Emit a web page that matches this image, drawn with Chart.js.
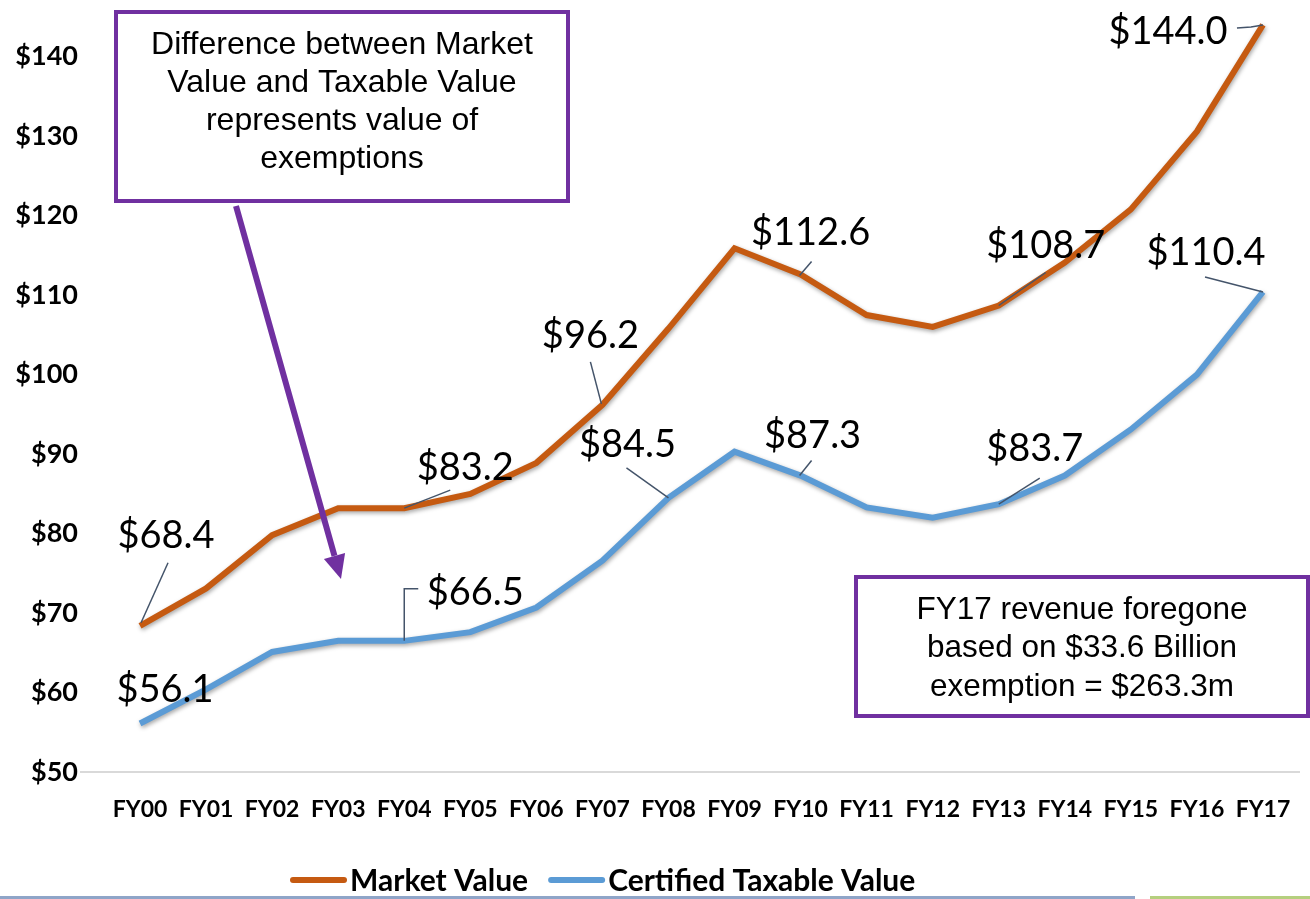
<!DOCTYPE html>
<html>
<head>
<meta charset="utf-8">
<script src="https://cdn.jsdelivr.net/npm/chart.js@4.4.0/dist/chart.umd.min.js"></script>
<style>
  html, body { margin: 0; padding: 0; background: #fff; }
  #wrap { position: relative; width: 1310px; height: 899px; }
</style>
</head>
<body>
<div id="wrap"><canvas id="myChart" width="1310" height="899"></canvas></div>
<script>
// valores em bilhões de dólares
const years = ["FY00", "FY01", "FY02", "FY03", "FY04", "FY05", "FY06", "FY07", "FY08",
  "FY09", "FY10", "FY11", "FY12", "FY13", "FY14", "FY15", "FY16", "FY17"];
const marketValue = [68.4, 73.1, 79.8, 83.2, 83.2, 85.0, 88.9, 96.2, 105.8,
  115.9, 112.6, 107.5, 106.0, 108.7, 114.1, 120.8, 130.6, 144.0];
const taxableValue = [56.1, 60.4, 65.1, 66.5, 66.5, 67.6, 70.7, 76.6, 84.5,
  90.3, 87.3, 83.3, 82.0, 83.7, 87.3, 93.1, 100.0, 110.4];
const yTicks = [50, 60, 70, 80, 90, 100, 110, 120, 130, 140];

const noteTop = ["Difference between Market", "Value and Taxable Value", "represents value of", "exemptions"];
const noteBottom = ["FY17 revenue foregone", "based on $33.6 Billion", "exemption = $263.3m"];

// onde ficam os rótulos de valor (deslocamento a partir do ponto, em px)
const labelSpots = [
  { ds: 0, i: 0, dx: 26, dy: -90, lead: [[1, -3], [28, -63]] },
  { ds: 0, i: 4, dx: 61, dy: -40, lead: [[0, 0], [46, -18]] },
  { ds: 0, i: 7, dx: -12, dy: -69, lead: [[-1, -1], [-12, -43]] },
  { ds: 0, i: 10, dx: 10, dy: -42, lead: [[-1, 1], [11, -13]] },
  { ds: 0, i: 13, dx: 47, dy: -60, lead: [[0, 0], [47, -33]] },
  { ds: 0, i: 17, dx: -95, dy: 7, lead: [[0, 0], [-12, 2], [-26, 3]] },
  { ds: 1, i: 0, dx: 25, dy: -34, lead: null },
  { ds: 1, i: 4, dx: 71, dy: -48, lead: [[0, 0], [0, -52], [14, -52]] },
  { ds: 1, i: 8, dx: -41, dy: -53, lead: [[0, 0], [-42, -30]] },
  { ds: 1, i: 10, dx: 12, dy: -40, lead: [[-1, 0], [11, -15]] },
  { ds: 1, i: 13, dx: 36, dy: -55, lead: [[0, 0], [41, -26]] },
  { ds: 1, i: 17, dx: -57, dy: -39, lead: [[0, 0], [-58, -15]] },
];

const orange = "#C55A11";
const blue = "#5B9BD5";
const purple = "#7030A0";

// sombra leve nas linhas
const lineShadow = {
  id: "lineShadow",
  beforeDatasetDraw(chart) {
    const ctx = chart.ctx;
    ctx.save();
    ctx.shadowColor = "rgba(0,0,0,0.35)";
    ctx.shadowBlur = 4;
    ctx.shadowOffsetX = 1;
    ctx.shadowOffsetY = 2;
  },
  afterDatasetDraw(chart) {
    chart.ctx.restore();
  },
};

// linha base em $50
const baseLine = {
  id: "baseLine",
  beforeDatasetsDraw(chart) {
    const ctx = chart.ctx;
    const y = chart.scales.y.getPixelForValue(50);
    ctx.save();
    ctx.strokeStyle = "#d9d9d9";
    ctx.lineWidth = 2;
    ctx.beginPath();
    ctx.moveTo(chart.chartArea.left - 27, y);
    ctx.lineTo(chart.chartArea.right + 4, y);
    ctx.stroke();
    ctx.restore();
  },
};

// rótulos de valor com linhas de chamada
const valueLabels = {
  id: "valueLabels",
  afterDatasetsDraw(chart) {
    const ctx = chart.ctx;
    ctx.save();
    labelSpots.forEach((s) => {
      const pt = chart.getDatasetMeta(s.ds).data[s.i];
      const v = chart.data.datasets[s.ds].data[s.i];
      if (s.lead) {
        ctx.strokeStyle = "#44546A";
        ctx.lineWidth = 1.5;
        ctx.beginPath();
        s.lead.forEach((p, k) => {
          if (k === 0) ctx.moveTo(pt.x + p[0], pt.y + p[1]);
          else ctx.lineTo(pt.x + p[0], pt.y + p[1]);
        });
        ctx.stroke();
      }
      ctx.fillStyle = "#000";
      ctx.font = "38px Lato";
      ctx.textAlign = "center";
      ctx.textBaseline = "middle";
      ctx.fillText("$" + v.toFixed(1), pt.x + s.dx, pt.y + s.dy);
    });
    ctx.restore();
  },
};

// legenda desenhada à mão (posição igual à do slide)
const bottomLegend = {
  id: "bottomLegend",
  afterDraw(chart) {
    const ctx = chart.ctx;
    ctx.save();
    ctx.font = "bold 30px Lato";
    ctx.textBaseline = "middle";
    ctx.textAlign = "left";
    let x = 290;
    const y = 880;
    chart.data.datasets.forEach((d) => {
      ctx.strokeStyle = d.borderColor;
      ctx.lineWidth = 6;
      ctx.lineCap = "round";
      ctx.beginPath();
      ctx.moveTo(x + 3, y);
      ctx.lineTo(x + 54, y);
      ctx.stroke();
      x += 60;
      ctx.fillStyle = "#000";
      ctx.fillText(d.label, x, y + 1);
      x += ctx.measureText(d.label).width + 20;
    });
    ctx.restore();
  },
};

// caixas de texto e seta roxa
const notes = {
  id: "notes",
  afterDraw(chart) {
    const ctx = chart.ctx;
    ctx.save();
    ctx.strokeStyle = purple;
    ctx.lineWidth = 4;
    ctx.fillStyle = "#fff";
    ctx.fillRect(116, 12, 452, 189);
    ctx.strokeRect(116, 12, 452, 189);
    ctx.fillRect(856, 577, 452, 139);
    ctx.strokeRect(856, 577, 452, 139);

    ctx.fillStyle = "#000";
    ctx.textAlign = "center";
    ctx.textBaseline = "middle";
    ctx.font = "32px 'Liberation Sans'";
    noteTop.forEach((t, k) => ctx.fillText(t, 342, 45 + k * 38));
    ctx.font = "31.5px 'Liberation Sans'";
    noteBottom.forEach((t, k) => ctx.fillText(t, 1082, 610 + k * 38.5));

    // seta
    const x0 = 236, y0 = 206, x1 = 341, y1 = 579;
    const ang = Math.atan2(y1 - y0, x1 - x0);
    const hl = 24, hw = 11;
    const bx = x1 - hl * Math.cos(ang), by = y1 - hl * Math.sin(ang);
    ctx.strokeStyle = purple;
    ctx.lineWidth = 6;
    ctx.beginPath();
    ctx.moveTo(x0, y0);
    ctx.lineTo(bx, by);
    ctx.stroke();
    ctx.fillStyle = purple;
    ctx.beginPath();
    ctx.moveTo(x1, y1);
    ctx.lineTo(bx + hw * Math.sin(ang), by - hw * Math.cos(ang));
    ctx.lineTo(bx - hw * Math.sin(ang), by + hw * Math.cos(ang));
    ctx.closePath();
    ctx.fill();

    // rodapé do slide
    ctx.fillStyle = "#8FA5C8";
    ctx.fillRect(0, 896, 1135, 3);
    ctx.fillStyle = "#B5CF7E";
    ctx.fillRect(1150, 896, 160, 3);
    ctx.restore();
  },
};

const ctx = document.getElementById("myChart");
const myChart = new Chart(ctx, {
  type: "line",
  data: {
    labels: years,
    datasets: [
      {
        label: "Market Value",
        data: marketValue,
        borderColor: orange,
        backgroundColor: orange,
        borderWidth: 6,
        pointRadius: 0,
        tension: 0,
      },
      {
        label: "Certified Taxable Value",
        data: taxableValue,
        borderColor: blue,
        backgroundColor: blue,
        borderWidth: 6,
        pointRadius: 0,
        tension: 0,
      },
    ],
  },
  options: {
    responsive: false,
    animation: false,
    devicePixelRatio: 1,
    layout: { padding: { left: 0, top: 17, right: 14, bottom: 43 } },
    scales: {
      x: {
        offset: true,
        grid: { display: false, drawTicks: false },
        border: { display: false },
        ticks: {
          color: "#000",
          font: { family: "Lato", size: 23, weight: "bold" },
          padding: 24,
          maxRotation: 0,
          autoSkip: false,
        },
        afterFit(scale) {
          scale.height = 84;
          scale.paddingLeft = 0;
          scale.paddingRight = 0;
        },
      },
      y: {
        min: 50,
        max: 145,
        grid: { display: false, drawTicks: false },
        border: { display: false },
        afterBuildTicks(scale) {
          scale.ticks = yTicks.map((v) => ({ value: v }));
        },
        ticks: {
          color: "#000",
          font: { family: "Lato", size: 27, weight: "bold" },
          padding: 29,
          callback: (v) => "$" + v,
        },
        afterFit(scale) {
          scale.width = 107;
          scale.paddingTop = 0;
          scale.paddingBottom = 0;
        },
      },
    },
    plugins: {
      legend: { display: false },
      tooltip: { enabled: false },
    },
  },
  plugins: [lineShadow, baseLine, valueLabels, bottomLegend, notes],
});
</script>
</body>
</html>
